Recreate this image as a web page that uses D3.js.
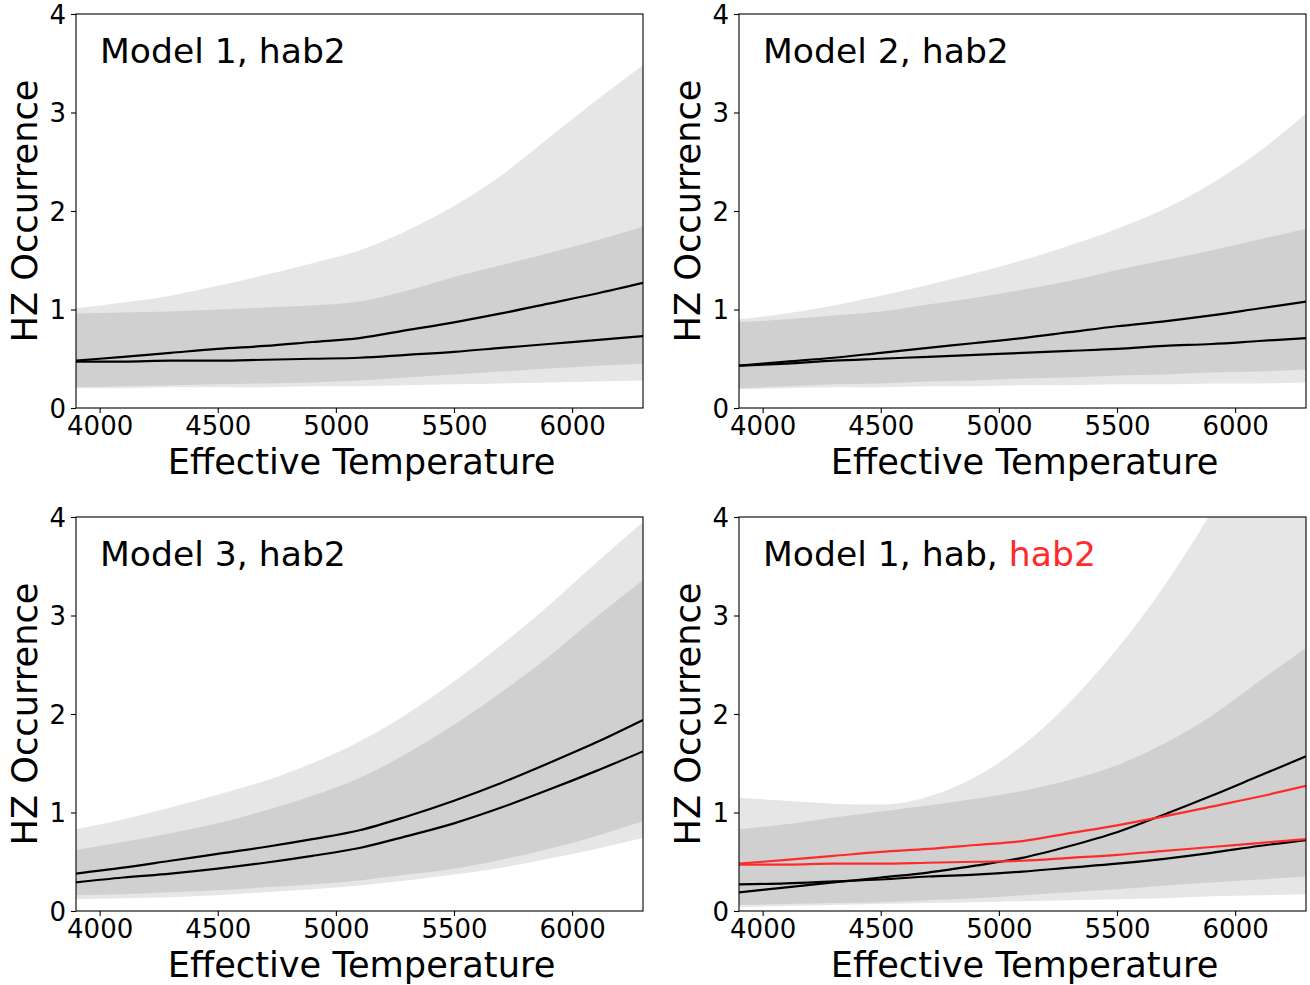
<!DOCTYPE html>
<html>
<head>
<meta charset="utf-8">
<script src="https://cdn.jsdelivr.net/npm/d3@7"></script>
<style>
  html, body { margin: 0; padding: 0; background: #fff; }
  svg { display: block; font-family: "DejaVu Sans", sans-serif; }
</style>
</head>
<body>
<svg id="fig" width="1310" height="985"></svg>
<script>
// Effective temperature sample grid (K)
const temps = [3900, 4100, 4300, 4500, 4700, 4900, 5100, 5300, 5500, 5700, 5900, 6100, 6300];
const xTicks = [4000, 4500, 5000, 5500, 6000];
const yTicks = [0, 1, 2, 3, 4];

// Model 1, hab2
const m1h2OuterLo = [0.20, 0.20, 0.21, 0.21, 0.21, 0.22, 0.22, 0.23, 0.24, 0.25, 0.26, 0.27, 0.28];
const m1h2OuterHi = [1.01, 1.07, 1.14, 1.24, 1.35, 1.47, 1.60, 1.80, 2.05, 2.36, 2.74, 3.12, 3.48];
const m1h2InnerLo = [0.21, 0.22, 0.23, 0.24, 0.25, 0.26, 0.28, 0.31, 0.34, 0.37, 0.40, 0.43, 0.45];
const m1h2InnerHi = [0.96, 0.97, 0.98, 1.00, 1.02, 1.04, 1.08, 1.19, 1.33, 1.45, 1.57, 1.70, 1.84];
const m1h2Mean    = [0.48, 0.52, 0.56, 0.60, 0.63, 0.67, 0.71, 0.79, 0.87, 0.96, 1.06, 1.16, 1.27];
const m1h2Median  = [0.47, 0.47, 0.48, 0.48, 0.49, 0.50, 0.51, 0.54, 0.57, 0.61, 0.65, 0.69, 0.73];

// Model 2, hab2
const m2h2OuterLo = [0.19, 0.20, 0.21, 0.21, 0.22, 0.22, 0.23, 0.23, 0.24, 0.24, 0.25, 0.25, 0.26];
const m2h2OuterHi = [0.90, 0.96, 1.04, 1.14, 1.25, 1.37, 1.50, 1.65, 1.82, 2.02, 2.28, 2.60, 2.99];
const m2h2InnerLo = [0.20, 0.22, 0.24, 0.25, 0.27, 0.28, 0.30, 0.31, 0.33, 0.34, 0.36, 0.37, 0.39];
const m2h2InnerHi = [0.87, 0.90, 0.94, 0.98, 1.05, 1.12, 1.20, 1.29, 1.40, 1.50, 1.60, 1.71, 1.82];
const m2h2Mean    = [0.43, 0.47, 0.51, 0.56, 0.61, 0.66, 0.71, 0.77, 0.83, 0.88, 0.94, 1.01, 1.08];
const m2h2Median  = [0.43, 0.45, 0.48, 0.50, 0.52, 0.54, 0.56, 0.58, 0.60, 0.63, 0.65, 0.68, 0.71];

// Model 3, hab2
const m3h2OuterLo = [0.12, 0.13, 0.14, 0.16, 0.19, 0.22, 0.26, 0.31, 0.37, 0.44, 0.53, 0.63, 0.74];
const m3h2OuterHi = [0.83, 0.93, 1.05, 1.18, 1.32, 1.50, 1.72, 2.00, 2.33, 2.70, 3.10, 3.53, 3.95];
const m3h2InnerLo = [0.16, 0.17, 0.19, 0.21, 0.24, 0.27, 0.31, 0.37, 0.43, 0.52, 0.63, 0.76, 0.91];
const m3h2InnerHi = [0.62, 0.70, 0.79, 0.89, 1.02, 1.17, 1.35, 1.60, 1.89, 2.22, 2.58, 2.98, 3.36];
const m3h2Mean    = [0.38, 0.44, 0.51, 0.58, 0.65, 0.73, 0.82, 0.96, 1.12, 1.30, 1.50, 1.71, 1.94];
const m3h2Median  = [0.29, 0.34, 0.38, 0.43, 0.49, 0.56, 0.64, 0.76, 0.89, 1.05, 1.23, 1.42, 1.62];

// Model 1, hab
const m1hOuterLo = [0.04, 0.05, 0.06, 0.07, 0.08, 0.09, 0.10, 0.11, 0.12, 0.13, 0.15, 0.16, 0.17];
const m1hOuterHi = [1.15, 1.12, 1.09, 1.08, 1.16, 1.36, 1.68, 2.12, 2.66, 3.30, 4.05, 4.90, 5.90];
const m1hInnerLo = [0.06, 0.07, 0.08, 0.09, 0.11, 0.13, 0.16, 0.19, 0.22, 0.26, 0.29, 0.32, 0.35];
const m1hInnerHi = [0.83, 0.88, 0.95, 1.01, 1.07, 1.14, 1.22, 1.33, 1.48, 1.70, 1.98, 2.33, 2.67];
const m1hMean    = [0.19, 0.24, 0.29, 0.34, 0.39, 0.46, 0.54, 0.66, 0.80, 0.98, 1.17, 1.37, 1.57];
const m1hMedian  = [0.27, 0.28, 0.30, 0.32, 0.35, 0.37, 0.40, 0.44, 0.48, 0.53, 0.59, 0.66, 0.72];

const panels = [
  { x0: 76,  y0: 14,  title: [["Model 1, hab2", "#000"]],
    bands: [m1h2OuterLo, m1h2OuterHi, m1h2InnerLo, m1h2InnerHi],
    lines: [[m1h2Mean, "#000"], [m1h2Median, "#000"]] },
  { x0: 739, y0: 14,  title: [["Model 2, hab2", "#000"]],
    bands: [m2h2OuterLo, m2h2OuterHi, m2h2InnerLo, m2h2InnerHi],
    lines: [[m2h2Mean, "#000"], [m2h2Median, "#000"]] },
  { x0: 76,  y0: 517, title: [["Model 3, hab2", "#000"]],
    bands: [m3h2OuterLo, m3h2OuterHi, m3h2InnerLo, m3h2InnerHi],
    lines: [[m3h2Mean, "#000"], [m3h2Median, "#000"]] },
  { x0: 739, y0: 517, title: [["Model 1, hab, ", "#000"], ["hab2", "#ff2b2b"]],
    bands: [m1hOuterLo, m1hOuterHi, m1hInnerLo, m1hInnerHi],
    lines: [[m1hMean, "#000"], [m1hMedian, "#000"], [m1h2Mean, "#ff2b2b"], [m1h2Median, "#ff2b2b"]] }
];

const W = 567, H = 394;
const svg = d3.select("#fig");

panels.forEach((p, i) => {
  const g = svg.append("g").attr("transform", `translate(${p.x0},${p.y0})`);
  const x = d3.scaleLinear().domain([3900, 6300]).range([0, W]);
  const y = d3.scaleLinear().domain([0, 4]).range([H, 0]);

  const clipId = "clip" + i;
  g.append("clipPath").attr("id", clipId)
    .append("rect").attr("width", W).attr("height", H);
  const plot = g.append("g").attr("clip-path", `url(#${clipId})`);

  const area = (lo, hi) => d3.area()
    .curve(d3.curveMonotoneX)
    .x((d, k) => x(temps[k]))
    .y0((d, k) => y(lo[k]))
    .y1((d, k) => y(hi[k]))(temps);

  // outer and inner percentile bands
  const [oLo, oHi, iLo, iHi] = p.bands;
  plot.append("path").attr("d", area(oLo, oHi)).attr("fill", "#e6e6e6");
  plot.append("path").attr("d", area(iLo, iHi)).attr("fill", "#d0d0d0");

  const line = d3.line().curve(d3.curveMonotoneX)
    .x((d, k) => x(temps[k])).y(d => y(d));
  p.lines.forEach(([vals, col]) => {
    plot.append("path").attr("d", line(vals))
      .attr("fill", "none").attr("stroke", col).attr("stroke-width", 2.2);
  });

  // axes
  const xAxis = d3.axisBottom(x).tickValues(xTicks).tickSize(5).tickPadding(5).tickFormat(d3.format("d"));
  const yAxis = d3.axisLeft(y).tickValues(yTicks).tickSize(5).tickPadding(5).tickFormat(d3.format("d"));
  const gx = g.append("g").attr("transform", `translate(0,${H})`).call(xAxis);
  const gy = g.append("g").call(yAxis);
  [gx, gy].forEach(a => {
    a.select(".domain").remove();
    a.selectAll(".tick line").attr("stroke", "#000").attr("stroke-width", 1.1);
    a.selectAll(".tick text").attr("fill", "#000").attr("font-size", 26)
      .attr("font-family", "DejaVu Sans");
  });
  gx.selectAll(".tick text").attr("dy", null).attr("y", 27);
  gy.selectAll(".tick text").attr("dy", "0.36em");

  g.append("rect").attr("width", W).attr("height", H)
    .attr("fill", "none").attr("stroke", "#000").attr("stroke-width", 1.1);

  // axis labels
  g.append("text").attr("x", W / 2 + 2).attr("y", H + 66)
    .attr("text-anchor", "middle").attr("font-size", 35.2)
    .text("Effective Temperature");
  g.append("text")
    .attr("transform", `translate(-39,${H / 2}) rotate(-90)`)
    .attr("text-anchor", "middle").attr("font-size", 35.2)
    .text("HZ Occurrence");

  // panel title
  const t = g.append("text").attr("x", 24).attr("y", 49).attr("font-size", 34.6);
  p.title.forEach(([s, c]) => t.append("tspan").attr("fill", c).text(s));
});
</script>
</body>
</html>
